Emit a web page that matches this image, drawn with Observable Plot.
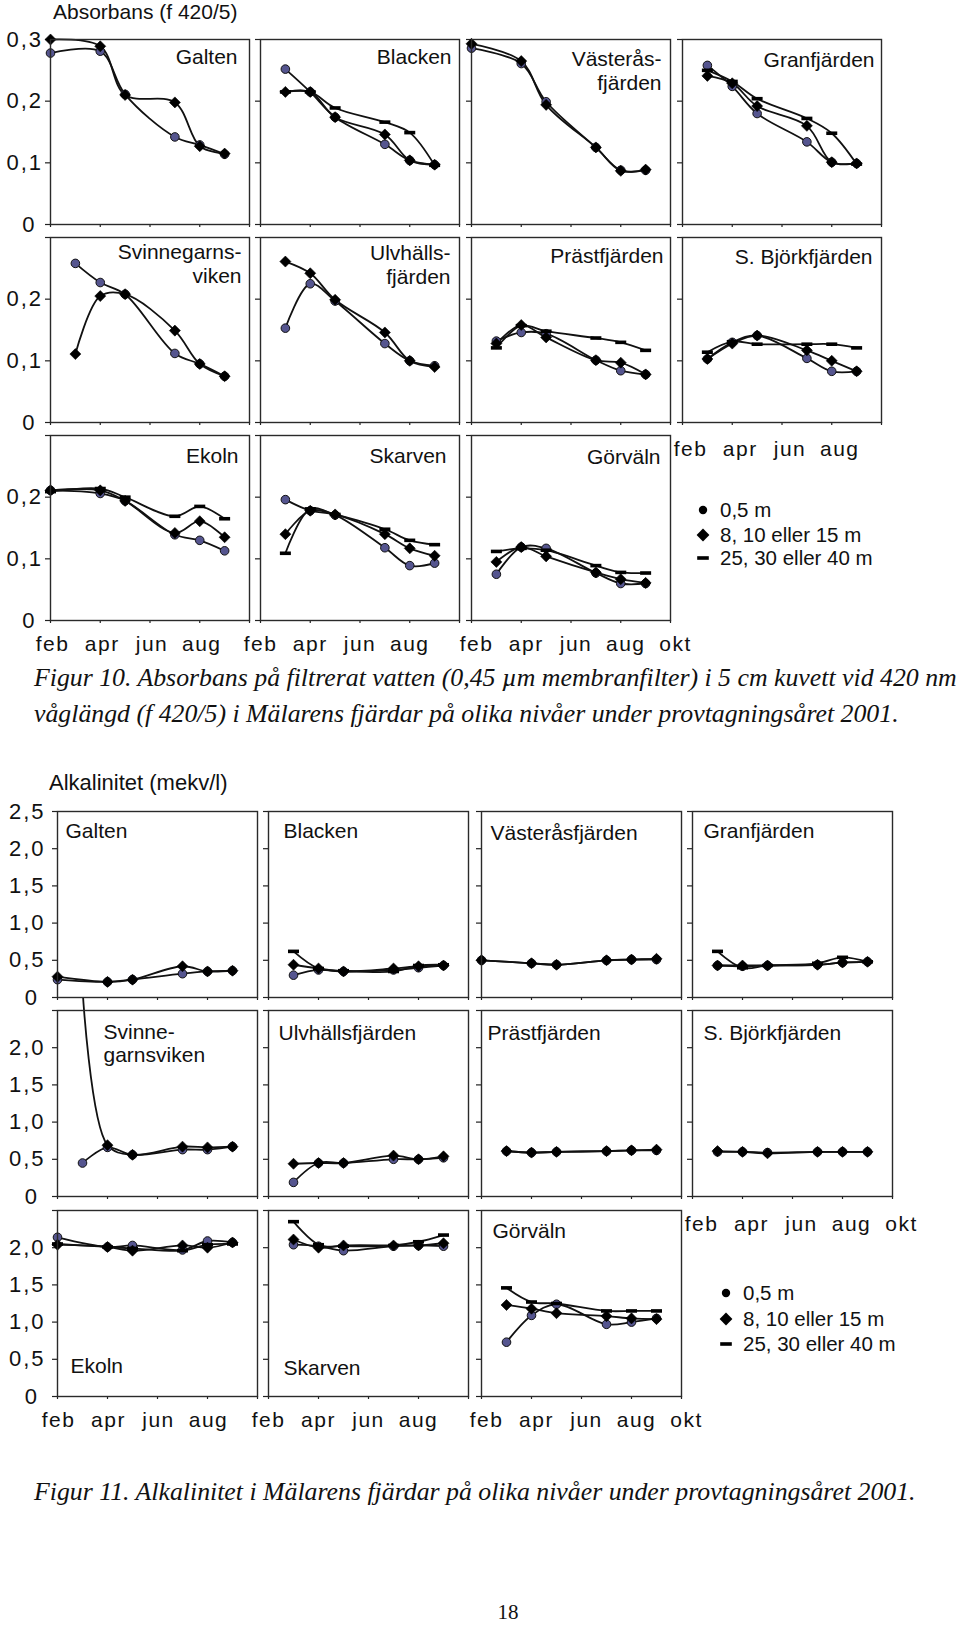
<!DOCTYPE html>
<html><head><meta charset="utf-8">
<script src="https://cdn.jsdelivr.net/npm/d3@7"></script>
<script src="https://cdn.jsdelivr.net/npm/@observablehq/plot@0.6"></script>
<style>
body { margin:0; background:#fff; }
#page { position:relative; width:960px; height:1626px; overflow:hidden; background:#fff; color:#111;
  font-family: "Liberation Sans", Arial, Helvetica, sans-serif; }
.t { position:absolute; line-height:0; white-space:nowrap; }
.sans { font-family: "Liberation Sans", Arial, Helvetica, sans-serif; }
.cap { font-family: "Liberation Serif", "Times New Roman", serif; font-style: italic; }
.serif { font-family: "Liberation Serif", "Times New Roman", serif; }
svg.panel { position:absolute; overflow:visible; }
svg.panel g[aria-label="y-axis tick label"] text { letter-spacing: 2px; }
svg.panel g[aria-label="x-axis tick label"] text { letter-spacing: 1.5px; }
</style></head>
<body><div id="page"></div>
<script>
// ---------- data ----------
const monthNames = ["feb", "apr", "jun", "aug", "okt"];
const monthTicks = [2, 4, 6, 8, 10];
const monthsA = [2, 4, 5, 7, 8, 9];   // feb, apr, maj, jul, aug, sep
const monthsB = [3, 4, 5, 7, 8, 9];   // mar, apr, maj, jul, aug, sep
const lakes = ["Galten", "Blacken", "Västeråsfjärden", "Granfjärden", "Svinnegarnsviken", "Ulvhällsfjärden",
  "Prästfjärden", "S. Björkfjärden", "Ekoln", "Skarven", "Görväln"];
const lakeMonths = [monthsA, monthsB, monthsA, monthsB, monthsB, monthsB, monthsB, monthsB, monthsA, monthsB, monthsB];
const titles10 = ["Galten", "Blacken", "Västerås-\nfjärden", "Granfjärden", "Svinnegarns-\nviken", "Ulvhälls-\nfjärden",
  "Prästfjärden", "S. Björkfjärden", "Ekoln", "Skarven", "Görväln"];
const titles11 = ["Galten", "Blacken", "Västeråsfjärden", "Granfjärden", "Svinne-\ngarnsviken", "Ulvhällsfjärden",
  "Prästfjärden", "S. Björkfjärden", "Ekoln", "Skarven", "Görväln"];
const depthLabels = ["0,5 m", "8, 10 eller 15 m", "25, 30 eller 40 m"];
const absTicks = [0, 0.1, 0.2, 0.3];
const alkTicks = [0, 0.5, 1, 1.5, 2, 2.5];

// Figur 10: absorbans (f 420/5)
const abs05 = [
  [0.278, 0.281, 0.211, 0.142, 0.129, 0.114],
  [0.252, 0.215, 0.174, 0.130, 0.104, 0.097],
  [0.286, 0.261, 0.199, 0.125, 0.088, 0.088],
  [0.258, 0.224, 0.180, 0.134, 0.101, 0.099],
  [0.258, 0.227, 0.208, 0.112, 0.095, 0.075],
  [0.153, 0.225, 0.197, 0.128, 0.100, 0.092],
  [0.132, 0.146, 0.144, 0.101, 0.084, 0.078],
  [0.103, 0.130, 0.141, 0.104, 0.083, 0.083],
  [0.211, 0.206, 0.194, 0.139, 0.130, 0.113],
  [0.196, 0.178, 0.171, 0.118, 0.089, 0.093],
  [0.075, 0.119, 0.117, 0.077, 0.060, 0.060]
];
const abs10 = [
  [0.300, 0.289, 0.210, 0.198, 0.127, 0.115],
  [0.215, 0.215, 0.174, 0.146, 0.104, 0.097],
  [0.293, 0.265, 0.194, 0.125, 0.087, 0.089],
  [0.241, 0.229, 0.192, 0.160, 0.101, 0.099],
  [0.111, 0.205, 0.208, 0.149, 0.095, 0.075],
  [0.261, 0.242, 0.199, 0.146, 0.100, 0.090],
  [0.128, 0.158, 0.138, 0.101, 0.097, 0.078],
  [0.103, 0.128, 0.141, 0.117, 0.100, 0.083],
  [0.211, 0.211, 0.194, 0.142, 0.161, 0.135],
  [0.140, 0.178, 0.172, 0.140, 0.117, 0.105],
  [0.095, 0.119, 0.104, 0.078, 0.067, 0.061]
];
const abs30 = [
  null,
  [0.215, 0.215, 0.189, 0.166, 0.149, 0.096],
  null,
  [0.250, 0.232, 0.204, 0.172, 0.148, 0.098],
  null,
  null,
  [0.121, 0.157, 0.148, 0.137, 0.130, 0.117],
  [0.114, 0.131, 0.127, 0.127, 0.127, 0.121],
  [0.209, 0.214, 0.200, 0.169, 0.185, 0.165],
  [0.109, 0.181, 0.172, 0.148, 0.130, 0.123],
  [0.112, 0.117, 0.114, 0.089, 0.078, 0.077]
];

// Figur 11: alkalinitet (mekv/l)
const alk05 = [
  [0.24, 0.21, 0.24, 0.32, 0.35, 0.36],
  [0.30, 0.37, 0.35, 0.37, 0.40, 0.43],
  [0.50, 0.46, 0.44, 0.50, 0.51, 0.51],
  [0.43, 0.42, 0.43, 0.44, 0.47, 0.48],
  [0.45, 0.66, 0.56, 0.63, 0.63, 0.67],
  [0.19, 0.45, 0.45, 0.50, 0.50, 0.52],
  [0.61, 0.59, 0.60, 0.61, 0.62, 0.62],
  [0.60, 0.60, 0.59, 0.60, 0.60, 0.60],
  [2.14, 2.01, 2.03, 1.97, 2.09, 2.07],
  [2.04, 2.02, 1.96, 2.02, 2.03, 2.02],
  [0.73, 1.09, 1.24, 0.97, 1.00, 1.05]
];
const alk10 = [
  [0.28, 0.21, 0.24, 0.42, 0.35, 0.36],
  [0.44, 0.39, 0.35, 0.39, 0.42, 0.43],
  [0.50, 0.46, 0.44, 0.50, 0.51, 0.52],
  [0.43, 0.43, 0.43, 0.44, 0.47, 0.48],
  [2.80, 0.69, 0.56, 0.67, 0.66, 0.67],
  [0.44, 0.45, 0.45, 0.55, 0.50, 0.54],
  [0.61, 0.59, 0.60, 0.61, 0.62, 0.63],
  [0.61, 0.60, 0.58, 0.60, 0.60, 0.60],
  [2.04, 2.01, 1.96, 2.03, 2.00, 2.07],
  [2.11, 2.00, 2.03, 2.03, 2.03, 2.06],
  [1.23, 1.18, 1.12, 1.08, 1.05, 1.04]
];
const alk30 = [
  null,
  [0.62, 0.39, 0.36, 0.35, 0.43, 0.44],
  null,
  [0.62, 0.40, 0.43, 0.46, 0.54, 0.48],
  null,
  null,
  null,
  null,
  [2.05, 2.01, 1.99, 1.96, 2.04, 2.05],
  [2.35, 2.04, 2.02, 2.03, 2.08, 2.17],
  [1.46, 1.27, 1.25, 1.15, 1.15, 1.15]
];

// ---------- layout (positions & styles) ----------
const fig10 = {
  v05: abs05, v10: abs10, v30: abs30, titles: titles10,
  left: [50, 260, 471, 682], top: [39, 237, 435], w: 199, h: 185,
  domain: [0, 0.3], ticks: absTicks, lastLabelRow0: 0.3, lastLabel: 0.2,
  labPad: 7.5, zeroPad: 14,
  titleAnchor: "top-right", titleDx: [-12, -8, -9, -7, -8, -9, -7, -9, -11, -13, -10],
  titleDy: [7, 7, 9.5, 10, 4, 5, 8, 9, 10, 10, 11],
  titleLH: 1.15,
  xLabels: {7: {n: 4, dx: 8, dy: 3}, 8: {n: 4, dx: 2, dy: 0}, 9: {n: 4, dx: 0, dy: 0}, 10: {n: 5, dx: 5, dy: 0}}
};
const fig11 = {
  v05: alk05, v10: alk10, v30: alk30, titles: titles11,
  left: [57, 268, 481, 692], top: [811, 1010, 1210], w: 200, h: 186,
  domain: [0, 2.5], ticks: alkTicks, lastLabelRow0: 2.5, lastLabel: 2.0,
  labPad: 12, zeroPad: 18.5,
  titleAnchor: "top-left", titleDx: [8, 15, 9, 11, 46, 10, 6, 11, 13, 15, 11],
  titleDy: [10, 10, 12, 10, 12, 13, 13, 13, -31, -29, 11],
  titleLH: 1.1, bottomTitles: [8, 9],
  xLabels: {7: {n: 5, dx: 9, dy: 4}, 8: {n: 4, dx: 1, dy: 0}, 9: {n: 4, dx: 0, dy: 0}, 10: {n: 5, dx: 5, dy: 0}}
};

const fmt = d => d === 0 ? "0" : d.toFixed(1).replace(".", ",");
const series = (vals, months) => vals ? months.map((m, k) => ({m, v: vals[k]})).filter(d => d.v != null) : [];
const dashSymbol = {draw(ctx) { ctx.rect(-5.5, -1.8, 11, 3.6); }};
const diamondSymbol = {draw(ctx, size) { const s = Math.sqrt(size / 2); ctx.moveTo(0, -s); ctx.lineTo(s, 0); ctx.lineTo(0, s); ctx.lineTo(-s, 0); ctx.closePath(); }};

const page = document.getElementById("page");
const ML = 60, MR = 45, MT = 15, MB = 45;

function makePanel(cfg, i) {
  const row = Math.floor(i / 4), col = i % 4;
  const s05 = series(cfg.v05[i], lakeMonths[i]);
  const s10 = series(cfg.v10[i], lakeMonths[i]);
  const s30 = series(cfg.v30[i], lakeMonths[i]);
  const lineOpts = {x: "m", y: "v", curve: "catmull-rom", stroke: "#111", strokeWidth: 1.8};
  const bottomTitle = cfg.bottomTitles && cfg.bottomTitles.includes(i);
  const marks = [
    Plot.frame({fill: "white"}),
    Plot.axisY({ticks: cfg.ticks, tickSize: 5, tickFormat: () => "", label: null, strokeWidth: 1.2}),
    Plot.axisX({ticks: monthTicks, tickSize: 3, tickFormat: () => "", label: null, strokeWidth: 1.2}),
    Plot.line(s05, lineOpts),
    Plot.line(s10, lineOpts),
    Plot.line(s30, lineOpts),
    Plot.dot(s05, {x: "m", y: "v", r: 4.3, fill: "#55558f", stroke: "#111", strokeWidth: 1}),
    Plot.dot(s10, {x: "m", y: "v", r: 4.4, symbol: diamondSymbol, fill: "#000", stroke: "#000", strokeWidth: 0.6}),
    Plot.dot(s30, {x: "m", y: "v", symbol: dashSymbol, fill: "#000", stroke: "none"}),
    Plot.frame({stroke: "#2a2a2a", strokeWidth: 1.4}),
    Plot.text([cfg.titles[i]], {
      text: d => d,
      frameAnchor: bottomTitle ? "bottom-left" : cfg.titleAnchor,
      textAnchor: cfg.titleAnchor === "top-right" ? "end" : "start",
      lineAnchor: bottomTitle ? "middle" : "top",
      lineHeight: cfg.titleLH,
      dx: cfg.titleDx[i], dy: cfg.titleDy[i],
      fontSize: 21, fill: "#111"
    })
  ];
  if (col === 0) {
    const top = row === 0 ? cfg.lastLabelRow0 : cfg.lastLabel;
    const labTicks = cfg.ticks.filter(t => t > 0 && t <= top + 1e-9);
    marks.push(Plot.axisY({ticks: labTicks, tickSize: 0, tickPadding: cfg.labPad, tickFormat: fmt, label: null, fontSize: 22, fill: "#111"}));
    marks.push(Plot.axisY({ticks: [0], tickSize: 0, tickPadding: cfg.zeroPad, tickFormat: fmt, label: null, fontSize: 22, fill: "#111"}));
  }
  const xl = cfg.xLabels[i];
  if (xl) {
    marks.push(Plot.axisX({ticks: monthTicks.slice(0, xl.n), tickSize: 0, tickPadding: 16 + xl.dy, dx: xl.dx,
      tickFormat: d => monthNames[monthTicks.indexOf(d)], label: null, fontSize: 21, fill: "#111"}));
  }
  const svg = Plot.plot({
    width: cfg.w + ML + MR, height: cfg.h + MT + MB,
    marginLeft: ML, marginRight: MR, marginTop: MT, marginBottom: MB,
    x: {domain: [2, 10], axis: null},
    y: {domain: cfg.domain, axis: null},
    style: {background: "transparent", overflow: "visible", color: "#222",
      fontFamily: '"Liberation Sans", Arial, Helvetica, sans-serif', maxWidth: "none"},
    marks
  });
  svg.classList.add("panel");
  svg.style.left = (cfg.left[col] - ML) + "px";
  svg.style.top = (cfg.top[row] - MT) + "px";
  return svg;
}

function drawFigure(cfg) {
  // append bottom rows first so upper panels cover lines running off-scale
  const order = [8, 9, 10, 4, 5, 6, 7, 0, 1, 2, 3];
  for (const i of order) page.appendChild(makePanel(cfg, i));
}

function text(str, x, baseline, size, cls, center) {
  const d = document.createElement("div");
  d.className = "t " + cls;
  d.style.fontSize = size + "px";
  d.style.left = x + "px";
  d.style.top = (baseline - 0.345 * size) + "px";
  if (center) d.style.transform = "translateX(-50%)";
  d.textContent = str;
  page.appendChild(d);
  return d;
}

function legend(mx, tx, ys) {
  const shapes = [
    '<circle cx="10" cy="10" r="4.2" fill="#000"/>',
    '<path d="M10,3.6L16.4,10L10,16.4L3.6,10Z" fill="#000"/>',
    '<rect x="4.2" y="8.2" width="11.6" height="3.6" fill="#000"/>'
  ];
  depthLabels.forEach((lab, k) => {
    const s = document.createElementNS("http://www.w3.org/2000/svg", "svg");
    s.setAttribute("width", 20); s.setAttribute("height", 20);
    s.style.position = "absolute"; s.style.left = (mx - 10) + "px"; s.style.top = (ys[k] - 10) + "px";
    s.innerHTML = shapes[k];
    page.appendChild(s);
    text(lab, tx, ys[k] + 7.5, 20.5, "sans");
  });
}

// Figur 10
text("Absorbans (f 420/5)", 53, 19, 21, "sans");
drawFigure(fig10);
legend(703, 720, [510, 535, 558]);
text("Figur 10. Absorbans på filtrerat vatten (0,45 µm membranfilter) i 5 cm kuvett vid 420 nm", 34, 687, 25.8, "cap");
text("våglängd (f 420/5) i Mälarens fjärdar på olika nivåer under provtagningsåret 2001.", 34, 723, 25.8, "cap");

// Figur 11
text("Alkalinitet (mekv/l)", 49, 791, 22, "sans");
drawFigure(fig11);
legend(726, 743, [1293, 1319, 1344]);
text("Figur 11. Alkalinitet i Mälarens fjärdar på olika nivåer under provtagningsåret 2001.", 34, 1501, 25.8, "cap");

text("18", 508, 1619, 21, "serif", true);
</script>
</body></html>
